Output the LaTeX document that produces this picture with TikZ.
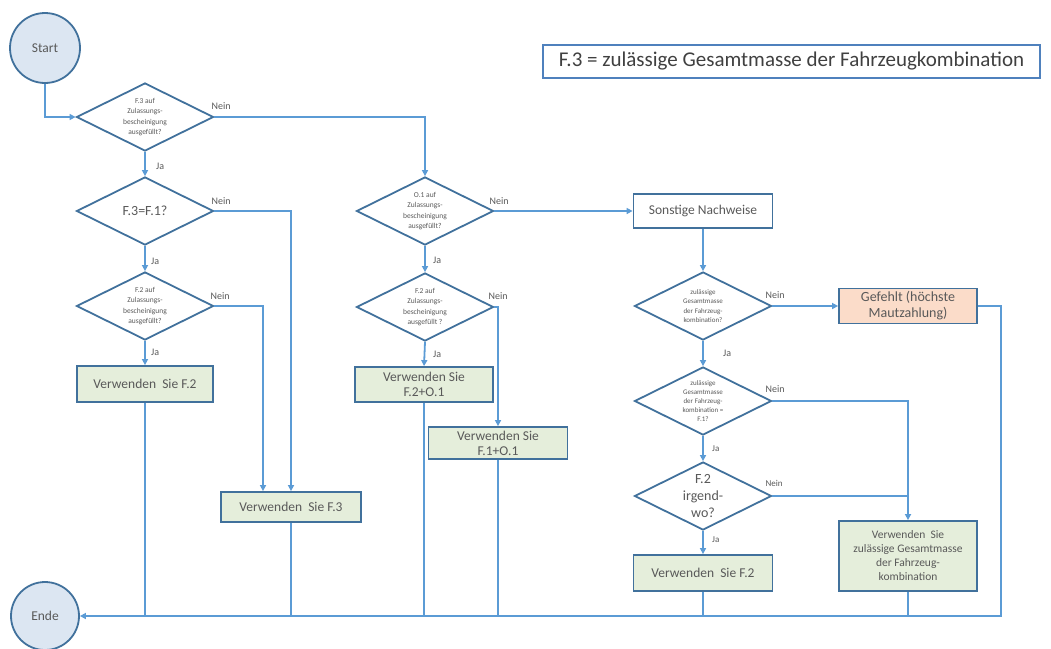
\documentclass[tikz,border=0pt]{standalone}
\usepackage{fontspec}
\setmainfont{Carlito}
\usetikzlibrary{shapes.geometric,arrows.meta}
\definecolor{conn}{HTML}{5B9BD5}
\definecolor{bord}{HTML}{41719C}
\definecolor{cfill}{HTML}{DCE6F2}
\definecolor{gfill}{HTML}{E5EEDB}
\definecolor{pfill}{HTML}{FBDCC9}
\definecolor{txt}{HTML}{595959}
\definecolor{ttl}{HTML}{4F81BD}
\begin{document}
\begin{tikzpicture}[x=1pt,y=-1pt,
 cline/.style={draw=conn, line width=1.8pt},
 arr/.style={cline, -{Triangle[length=6pt,width=6pt]}},
 term/.style={circle, draw=bord, fill=cfill, line width=1.8pt, minimum size=68pt, inner sep=0pt, font=\fontsize{13.5}{15}\selectfont, text=txt},
 dec/.style={diamond, draw=bord, line width=1.8pt, minimum width=137pt, minimum height=68pt, aspect=2, inner sep=0pt, align=center, text=txt, font=\fontsize{7.5}{10.5}\selectfont},
 decs/.style={dec, font=\fontsize{7}{9.2}\selectfont},
 act/.style={rectangle, draw=bord, fill=gfill, line width=1.8pt, minimum width=137pt, minimum height=35pt, inner sep=1pt, align=center, text=txt, font=\fontsize{13.5}{15}\selectfont},
 lab/.style={text=txt, font=\fontsize{10}{11}\selectfont, inner sep=0pt, anchor=west},
]
\useasboundingbox (0,0) rectangle (1051,648);

% terminals
\node[term, minimum size=70pt] (start) at (45,48) {Start};
\node[term] (ende) at (45,616) {Ende};

% title
\node[draw=ttl, line width=1.2pt, minimum width=497pt, minimum height=33pt, inner sep=0pt,
      font=\fontsize{21}{24}\selectfont, text=black!75] (title) at (791.5,61.5)
      {F.3 = zulässige Gesamtmasse der Fahrzeugkombination};

% left column
\node[dec] (d1) at (145,117) {F.3 auf\\Zulassungs-\\bescheinigung\\ausgefüllt?};
\node[dec, font=\fontsize{14}{16}\selectfont] (d2) at (145,211) {F.3=F.1?};
\node[dec] (d2b) at (145,306) {F.2 auf\\Zulassungs-\\bescheinigung\\ausgefüllt?};
\node[act, minimum width=136pt, minimum height=36pt] (b1) at (145,384) {Verwenden\ \ Sie F.2};
\node[act, minimum width=140pt, minimum height=30pt] (b2) at (291,507) {Verwenden\ \ Sie F.3};

% middle column
\node[dec] (d3) at (425,211) {O.1 auf\\Zulassungs-\\bescheinigung\\ausgefüllt?};
\node[dec] (d4) at (425,307) {F.2 auf\\Zulassungs-\\bescheinigung\\ausgefüllt ?};
\node[act, minimum width=138pt, minimum height=35pt] (b3) at (424,384.5) {Verwenden Sie\\F.2+O.1};
\node[act, minimum width=139pt, minimum height=32pt] (b4) at (498,443) {Verwenden Sie\\F.1+O.1};

% right column
\node[act, fill=white, minimum width=139pt, minimum height=34pt] (sn) at (703,211) {Sonstige Nachweise};
\node[decs] (d5) at (703,306) {zulässige\\Gesamtmasse\\der Fahrzeug-\\kombination?};
\node[act, fill=pfill, minimum width=138pt, minimum height=35pt, font=\fontsize{14}{16}\selectfont] (gf) at (908,306) {Gefehlt (höchste\\Mautzahlung)};
\node[decs] (d6) at (703,401) {zulässige\\Gesamtmasse\\der Fahrzeug-\\kombination =\\F.1?};
\node[dec, font=\fontsize{14}{17}\selectfont] (d7) at (703,496) {F.2\\irgend-\\wo?};
\node[act, minimum width=139pt, minimum height=36pt] (b5) at (703,573) {Verwenden\ \ Sie F.2};
\node[act, minimum width=138pt, minimum height=70pt, font=\fontsize{11.5}{14}\selectfont] (b6) at (908,556) {Verwenden\ \ Sie\\zulässige Gesamtmasse\\der Fahrzeug-\\kombination};

% connectors
\draw[arr] (start.south) |- (d1.west);
\draw[arr] (d1.south) -- (d2.north);
\draw[arr] (d1.east) -| (d3.north);
\draw[arr] (d2.south) -- (d2b.north);
\draw[arr] (d2.east) -| (b2.north);
\draw[arr] (d2b.east) -| ([xshift=-28pt]b2.north);
\draw[arr] (d2b.south) -- (b1.north);

\draw[arr] (d3.south) -- (d4.north);
\draw[arr] (d3.east) -- (sn.west);
\draw[arr] (d4.south) -- (b3.north);
\draw[arr] (d4.east) -| (b4.north);

\draw[arr] (sn.south) -- (d5.north);
\draw[arr] (d5.east) -- (gf.west);
\draw[arr] (d5.south) -- (d6.north);
\draw[arr] (d6.south) -- (d7.north);
\draw[arr] (d7.south) -- (b5.north);
\draw[arr] (d6.east) -| (b6.north);
\draw[cline] (d7.east) -- (d7.east -| b6.north);

% returns to Ende
\draw[arr] (gf.east) -- ++(23,0) |- (ende.east);
\foreach \b in {b1,b2,b3,b4,b5,b6}{
  \draw[cline] (\b.south) -- (\b.south |- ende.east);
}

% labels
\node[lab] (n1) at ([xshift=-3pt,yshift=11pt]d1.east) {Nein};
\node[lab] (n2) at ([xshift=-3pt,yshift=10pt]d2.east) {Nein};
\node[lab] (n3) at ([xshift=-4pt,yshift=10pt]d2b.east) {Nein};
\node[lab] (n4) at ([xshift=-5pt,yshift=10pt]d3.east) {Nein};
\node[lab] (n5) at ([xshift=-6pt,yshift=11pt]d4.east) {Nein};
\node[lab] (n6) at ([xshift=-7pt,yshift=11pt]d5.east) {Nein};
\node[lab] (n7) at ([xshift=-7pt,yshift=12pt]d6.east) {Nein};
\node[lab, font=\fontsize{9}{10}\selectfont] (n8) at ([xshift=-7pt,yshift=13pt]d7.east) {Nein};

\node[lab] (j1) at ([xshift=11pt,yshift=-14pt]d1.south) {Ja};
\node[lab] (j2) at ([xshift=6pt,yshift=-15pt]d2.south) {Ja};
\node[lab] (j3) at ([xshift=6pt,yshift=-11pt]d2b.south) {Ja};
\node[lab] (j4) at ([xshift=8pt,yshift=-14pt]d3.south) {Ja};
\node[lab] (j5) at ([xshift=8pt,yshift=-12pt]d4.south) {Ja};
\node[lab] (j6) at ([xshift=20pt,yshift=-12pt]d5.south) {Ja};
\node[lab, font=\fontsize{9}{10}\selectfont] (j7) at ([xshift=9pt,yshift=-13pt]d6.south) {Ja};
\node[lab, font=\fontsize{9}{10}\selectfont] (j8) at ([xshift=9pt,yshift=-9pt]d7.south) {Ja};
\end{tikzpicture}
\end{document}
